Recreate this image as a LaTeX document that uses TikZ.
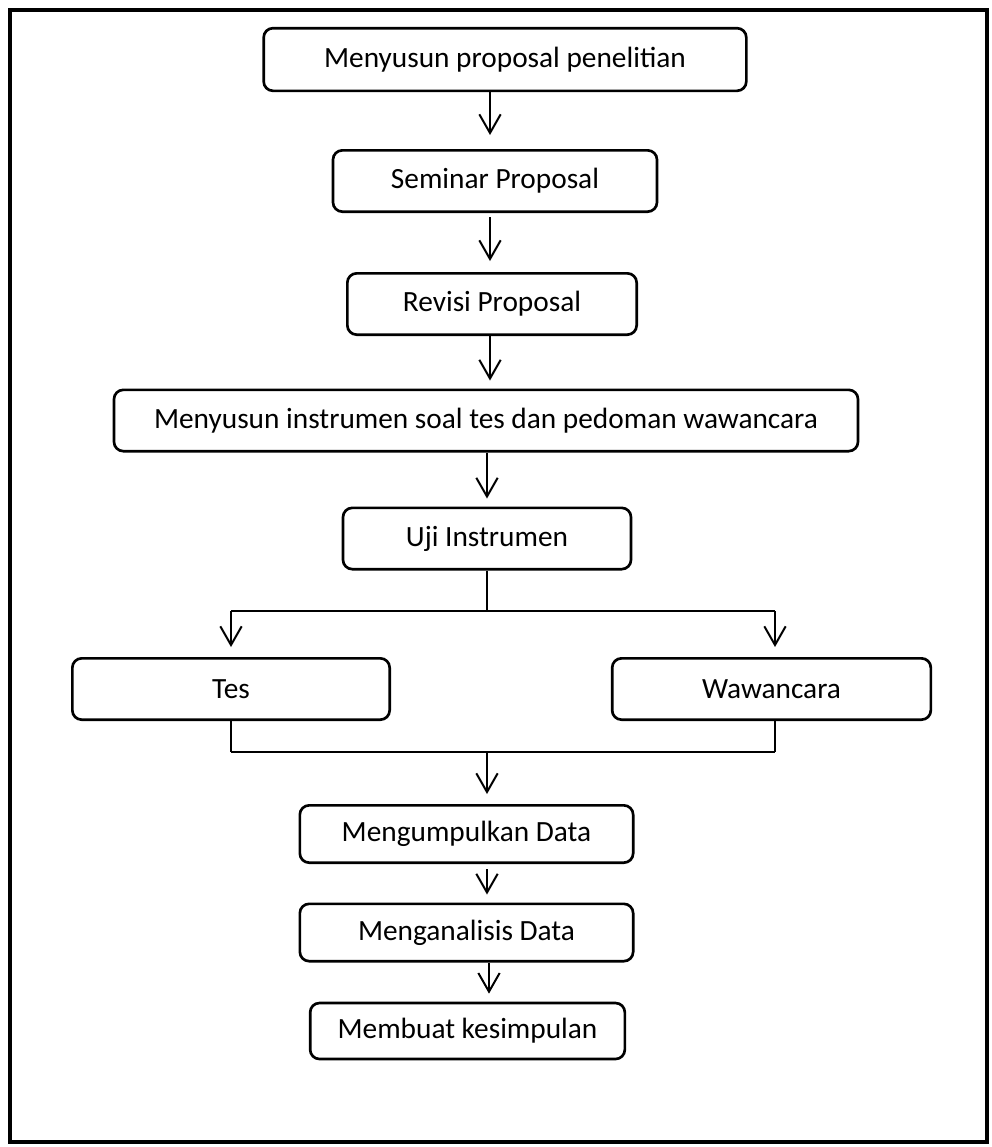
\documentclass[tikz,border=0pt]{standalone}
\usepackage{fontspec}
\setmainfont{Carlito}
\usepackage{tikz}
\usetikzlibrary{arrows.meta, positioning, calc}

\tikzset{
	langkah/.style={draw, rounded corners=7pt, line width=2pt,
		inner sep=0pt, minimum height=46pt, font=\fontsize{22}{26}\selectfont},
	panah/.style={line width=1.5pt, -{Straight Barb[length=14pt, width=16pt, line width=1.5pt]}},
	garis/.style={line width=1.5pt}
}

\begin{document}
\begin{tikzpicture}[x=0.75pt, y=-0.75pt]
	\useasboundingbox (0,0) rectangle (992,1147);
	% bingkai luar
	\draw[line width=3pt] (10,10) rectangle (987,1142);
	% langkah-langkah
	\node[langkah, minimum width=362pt, minimum height=47pt] (susun) at (505,59.5) {Menyusun proposal penelitian};
	\node[langkah, minimum width=243pt] (seminar) at (495,181) {Seminar Proposal};
	\node[langkah, minimum width=217pt] (revisi) at (492,304) {Revisi Proposal};
	\node[langkah, minimum width=558pt] (instrumen) at (486,420.5) {Menyusun instrumen soal tes dan pedoman wawancara};
	\node[langkah, minimum width=216pt] (uji) at (487,538.5) {Uji Instrumen};
	\node[langkah, minimum width=238pt] (tes) at (231,689) {Tes};
	\node[langkah, minimum width=239pt] (wawancara) at (771.5,689) {Wawancara};
	\node[langkah, minimum width=250pt, minimum height=43pt] (kumpul) at (466.5,834) {Mengumpulkan Data};
	\node[langkah, minimum width=250pt, minimum height=43pt] (analisis) at (466.5,932.5) {Menganalisis Data};
	\node[langkah, minimum width=236pt, minimum height=42pt] (simpul) at (467.5,1031) {Membuat kesimpulan};
	% titik cabang
	\coordinate (cabang) at (487,611);
	\coordinate (gabung) at (487,752);
	% panah
	\draw[panah] (susun.south -| 490,0) -- ($(seminar.north -| 490,0)-(0,14)$);
	\draw[panah] ($(seminar.south -| 490,0)+(0,4)$) -- ($(revisi.north -| 490,0)-(0,11)$);
	\draw[panah] (revisi.south -| 490,0) -- ($(instrumen.north -| 490,0)-(0,8)$);
	\draw[panah] (instrumen.south -| 487,0) -- ($(uji.north -| 487,0)-(0,8)$);
	\draw[garis] (uji.south -| cabang) -- (cabang);
	\draw[garis] (cabang -| tes) -- (cabang -| 775,0);
	\draw[panah] (cabang -| tes) -- ($(tes.north)-(0,10)$);
	\draw[panah] (cabang -| 775,0) -- ($(wawancara.north -| 775,0)-(0,10)$);
	\draw[garis] (tes.south) -- (gabung -| tes);
	\draw[garis] (wawancara.south -| 775,0) -- (gabung -| 775,0);
	\draw[garis] (gabung -| tes) -- (gabung -| 775,0);
	\draw[panah] (gabung) -- ($(kumpul.north -| gabung)-(0,10)$);
	\draw[panah] ($(kumpul.south -| 487,0)+(0,5)$) -- ($(analisis.north -| 487,0)-(0,8)$);
	\draw[panah] (analisis.south -| 489,0) -- ($(simpul.north -| 489,0)-(0,8)$);
\end{tikzpicture}
\end{document}
